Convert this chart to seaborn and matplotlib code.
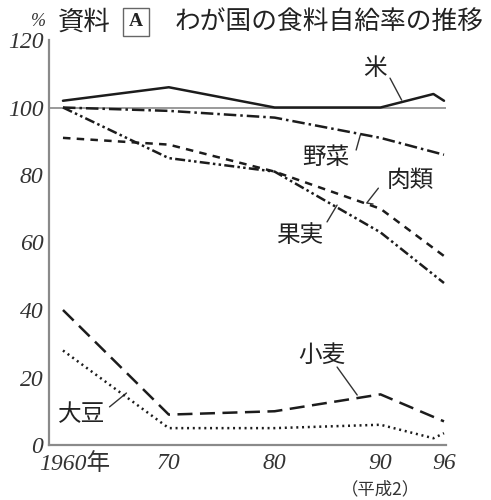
import numpy as np
import pandas as pd
import seaborn as sns
import matplotlib.pyplot as plt
import matplotlib.transforms as mtrans

sns.set_style("white")
plt.rcParams['font.family'] = ['Noto Sans CJK JP', 'DejaVu Sans']

# food self-sufficiency rate (%)
rice_years = [1960, 1970, 1980, 1990, 1995, 1996]
rice = [102, 106, 100, 100, 104, 102]
years = [1960, 1970, 1980, 1990, 1996]
vegetables = [100, 99, 97, 91, 86]
fruit = [100, 85, 81, 63, 48]
meat = [91, 89, 81, 70, 56]
wheat = [40, 9, 10, 15, 7]
soy_years = [1960, 1970, 1980, 1990, 1995, 1996]
soybean = [28, 5, 5, 6, 2, 3.5]

xticks = [1960, 1970, 1980, 1990, 1996]
xlabels = ["1960年", "70", "80", "90", "96"]
yticks = [0, 20, 40, 60, 80, 100, 120]

frames = []
for name, xs, ys in [("米", rice_years, rice), ("野菜", years, vegetables),
                     ("果実", years, fruit), ("肉類", years, meat),
                     ("小麦", years, wheat), ("大豆", soy_years, soybean)]:
    frames.append(pd.DataFrame({"year": xs, "rate": ys, "item": name}))
df = pd.concat(frames, ignore_index=True)

ink = "#1c1c1c"
dashes = {"米": "", "野菜": (5, 1.6, 1, 1.6), "果実": (4, 1.3, 1, 1.3, 1, 1.3),
          "肉類": (3, 2.5), "小麦": (6, 3), "大豆": (0.8, 1.5)}
palette = {k: ink for k in dashes}

fig = plt.figure(figsize=(4.91, 5.0), dpi=100)
ax = fig.add_axes([49 / 491, 55 / 500, 397 / 491, 405 / 500])

ax.axhline(100, color="#9a9a9a", lw=1.4, zorder=1)
sns.lineplot(data=df, x="year", y="rate", hue="item", style="item",
             palette=palette, dashes=dashes, lw=1.8, legend=False,
             errorbar=None, ax=ax, zorder=3)

ax.set_xlim(1958.68, 1996.19)
ax.set_ylim(0, 120)
ax.set_xlabel("")
ax.set_ylabel("")
for s in ["top", "right"]:
    ax.spines[s].set_visible(False)
for s in ["left", "bottom"]:
    ax.spines[s].set_color("#8a8a8a")
    ax.spines[s].set_linewidth(1.6)

ax.set_yticks(yticks)
ax.set_yticklabels([str(v) for v in yticks])
ax.set_xticks(xticks)
ax.set_xticklabels(xlabels)
for lab in ax.get_yticklabels() + ax.get_xticklabels():
    lab.set_family(["Liberation Serif", "Noto Sans CJK JP"])
    lab.set_fontstyle("italic")
    lab.set_fontsize(17)
    lab.set_color("#333333")
ax.tick_params(axis="both", direction="in", length=6, width=1.4, color="#8a8a8a")
ax.tick_params(axis="y", pad=4)
ax.tick_params(axis="x", pad=6)

lab0 = ax.get_xticklabels()[0]
lab0.set_transform(lab0.get_transform() + mtrans.ScaledTranslation(0.12, 0, fig.dpi_scale_trans))

ax.text(1990, -13.2, "（平成2）", fontsize=12.5, ha="center", va="center", color="#333333",
        clip_on=False)

# series labels with leader lines
lab_kw = dict(fontsize=17, ha="center", va="center", color="#222222")
line_kw = dict(color="#333333", lw=1.0)
ax.text(1989.5, 111.7, "米", **lab_kw)
ax.plot([1990.9, 1992.0], [108.7, 102.2], **line_kw)
ax.text(1984.8, 85.3, "野菜", **lab_kw)
ax.plot([1988.1, 1987.7], [91.9, 87.4], **line_kw)
ax.text(1992.8, 78.5, "肉類", **lab_kw)
ax.plot([1989.8, 1988.7, 1989.3], [76.1, 71.7, 71.4], **line_kw)
ax.text(1982.4, 62.2, "果実", **lab_kw)
ax.plot([1984.95, 1985.9], [66.1, 71.1], **line_kw)
ax.text(1984.5, 26.7, "小麦", **lab_kw)
ax.plot([1985.9, 1987.8], [23.1, 14.8], **line_kw)
ax.text(1961.8, 8.9, "大豆", **lab_kw)
ax.plot([1964.4, 1966.0], [11.3, 15.4], **line_kw)

# title
W, H = 491, 500
fig.text(38 / W, 1 - 22 / H, "%", fontsize=13, family=["Liberation Serif"], style="italic",
         ha="center", va="center", color="#333333")
fig.text(84 / W, 1 - 22 / H, "資料", fontsize=19, ha="center", va="center", color="#222222")
fig.text(136 / W, 1 - 22 / H, "A", fontsize=14, family=["Liberation Serif"], weight="bold",
         ha="center", va="center", color="#222222",
         bbox=dict(boxstyle="square,pad=0.3", fc="white", ec="#666666", lw=1.0))
fig.text(175 / W, 1 - 22 / H, "わが国の食料自給率の推移", fontsize=18.5, ha="left", va="center",
         color="#222222")

fig.savefig("out.png", dpi=100)
